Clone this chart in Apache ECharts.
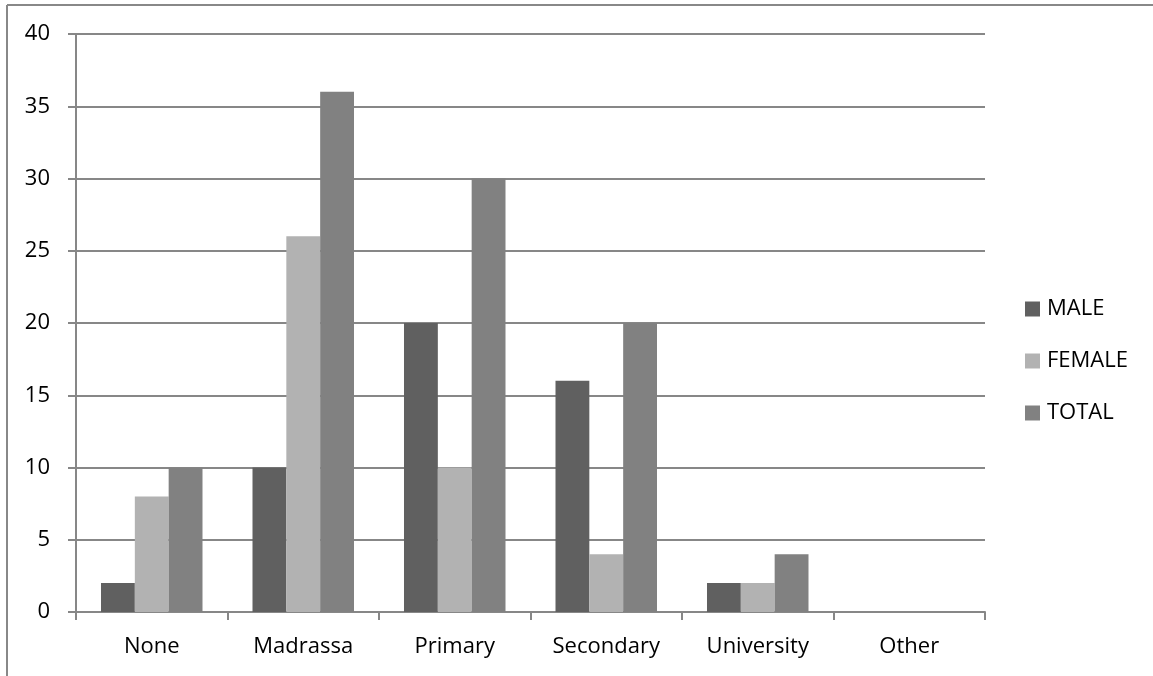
<!DOCTYPE html>
<html>
<head>
<meta charset="utf-8">
<script src="https://cdn.jsdelivr.net/npm/echarts@6/dist/echarts.min.js"></script>
<style>
  html, body { margin: 0; padding: 0; background: #fff; }
  #chart { width: 1153px; height: 676px; }
</style>
</head>
<body>
<div id="chart"></div>
<script>
// Education level by gender
const categories = ['None', 'Madrassa', 'Primary', 'Secondary', 'University', 'Other'];
const maleValues = [2, 10, 20, 16, 2, 0];
const femaleValues = [8, 26, 10, 4, 2, 0];
const totalValues = [10, 36, 30, 20, 4, 0];
const seriesNames = ['MALE', 'FEMALE', 'TOTAL'];

const FONT = 'Open Sans';
const FONT_SIZE = 22;
const GRID_COLOR = '#878787';

const chart = echarts.init(document.getElementById('chart'), null, { renderer: 'canvas' });

chart.setOption({
  animation: false,
  backgroundColor: '#ffffff',
  textStyle: { fontFamily: FONT },
  grid: { left: 76, right: 168, top: 34, bottom: 64 },
  graphic: [
    { type: 'line', shape: { x1: 7, y1: 5, x2: 1153, y2: 5 }, style: { stroke: '#888', lineWidth: 2 } },
    { type: 'line', shape: { x1: 7, y1: 5, x2: 7, y2: 676 }, style: { stroke: '#888', lineWidth: 2 } }
  ],
  legend: {
    orient: 'vertical',
    left: 1020,
    top: 293,
    itemWidth: 15,
    itemHeight: 15,
    itemGap: 30,
    icon: 'rect',
    data: seriesNames,
    textStyle: { fontFamily: FONT, fontSize: 22, color: '#000', padding: [0, 0, 0, 2] }
  },
  xAxis: {
    type: 'category',
    data: categories,
    boundaryGap: true,
    axisLine: { lineStyle: { color: GRID_COLOR, width: 2 } },
    axisTick: { show: true, length: 8, lineStyle: { color: GRID_COLOR, width: 2 } },
    axisLabel: { fontFamily: FONT, fontSize: FONT_SIZE, color: '#000', margin: 24 }
  },
  yAxis: {
    type: 'value',
    min: 0,
    max: 40,
    interval: 5,
    axisLine: { show: true, lineStyle: { color: GRID_COLOR, width: 2 } },
    axisTick: { show: true, length: 8, lineStyle: { color: GRID_COLOR, width: 2 } },
    splitLine: { lineStyle: { color: GRID_COLOR, width: 2 } },
    axisLabel: { fontFamily: FONT, fontSize: FONT_SIZE, color: '#000', margin: 26 }
  },
  series: [
    { name: seriesNames[0], type: 'bar', data: maleValues, barGap: '0%', barCategoryGap: '33%', itemStyle: { color: '#606060' } },
    { name: seriesNames[1], type: 'bar', data: femaleValues, barGap: '0%', barCategoryGap: '33%', itemStyle: { color: '#b2b2b2' } },
    { name: seriesNames[2], type: 'bar', data: totalValues, barGap: '0%', barCategoryGap: '33%', itemStyle: { color: '#818181' } }
  ]
});
</script>
</body>
</html>
